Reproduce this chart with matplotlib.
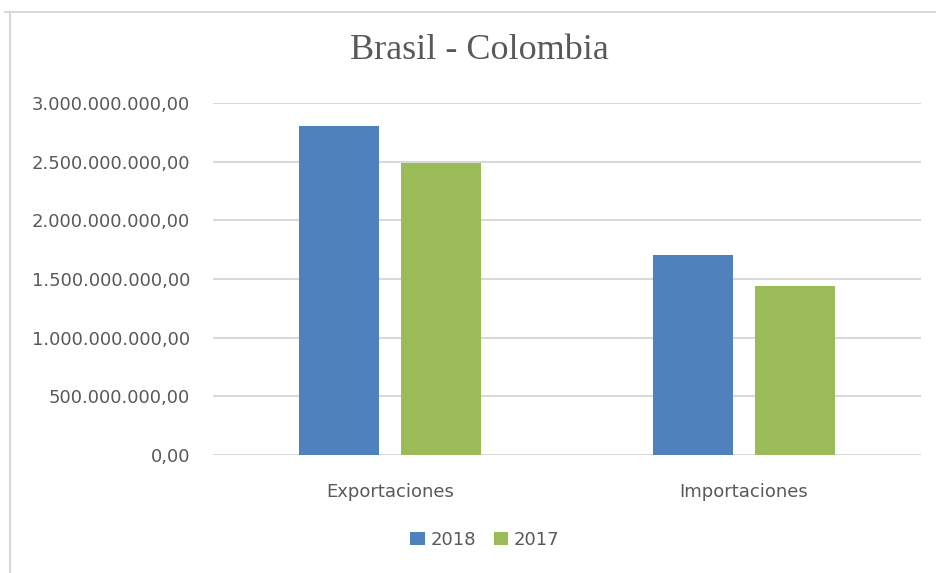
import matplotlib
matplotlib.use('Agg')
import matplotlib.pyplot as plt
from matplotlib.lines import Line2D
from matplotlib.ticker import FuncFormatter
import numpy as np

# Data
categories = ['Exportaciones', 'Importaciones']
series_names = ['2018', '2017']
values_2018 = [2.80e9, 1.706e9]
values_2017 = [2.492e9, 1.437e9]
colors = ['#4F81BD', '#9BBB59']

text_color = '#595959'
grid_color = '#d9d9d9'


def es_format(v, pos):
    # Spanish style: dot thousands, comma decimals
    s = '{:,.2f}'.format(v)
    return s.replace(',', 'X').replace('.', ',').replace('X', '.')


fig = plt.figure(figsize=(9.36, 5.73), dpi=100)
ax = fig.add_axes([0.2276, 0.2059, 0.7564, 0.6143])

x = np.arange(len(categories))
width = 0.226
offset = 0.143
ax.bar(x - offset, values_2018, width, color=colors[0], label=series_names[0], zorder=3)
ax.bar(x + offset, values_2017, width, color=colors[1], label=series_names[1], zorder=3)

ax.set_xlim(-0.5, 1.5)
ax.set_ylim(0, 3e9)
ax.set_yticks(np.arange(0, 3.01e9, 0.5e9))
ax.yaxis.set_major_formatter(FuncFormatter(es_format))
ax.set_xticks(x)
ax.set_xticklabels(categories)

ax.grid(axis='y', color=grid_color, linewidth=1.5, zorder=0)
for s in ax.spines.values():
    s.set_visible(False)
ax.tick_params(axis='both', length=0, labelcolor=text_color, labelsize=13)
ax.tick_params(axis='y', pad=16.5)
ax.tick_params(axis='x', pad=20)
for lab in ax.get_yticklabels() + ax.get_xticklabels():
    lab.set_fontfamily('DejaVu Sans')

fig.text(0.512, 0.912, 'Brasil - Colombia', ha='center', va='center',
         fontsize=26, family='Liberation Serif', color=text_color)

leg = fig.legend(loc='center', bbox_to_anchor=(0.518, 0.058), ncol=2, frameon=False,
                 handlelength=0.8, handleheight=0.8, handletextpad=0.3, columnspacing=1.0,
                 prop={'family': 'DejaVu Sans', 'size': 13})
for t in leg.get_texts():
    t.set_color(text_color)

# chart frame (cut at right and bottom)
fig.add_artist(Line2D([5 / 936, 1.0], [1 - 12 / 573, 1 - 12 / 573], color=grid_color, linewidth=1.5))
fig.add_artist(Line2D([10 / 936, 10 / 936], [0.0, 1 - 12 / 573], color=grid_color, linewidth=1.5))

fig.savefig('out.png', dpi=100)
